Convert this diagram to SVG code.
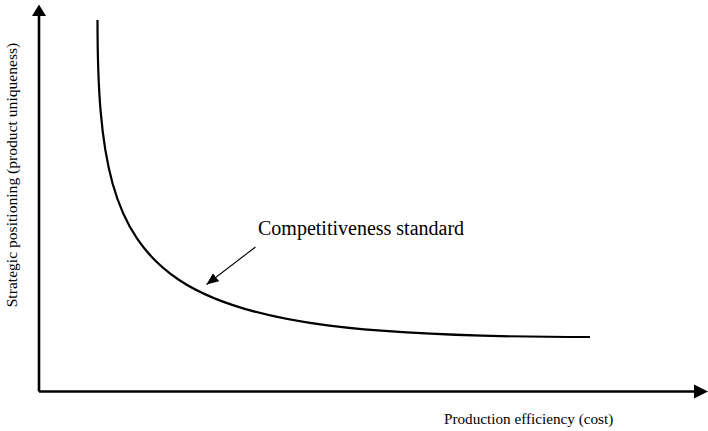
<svg xmlns="http://www.w3.org/2000/svg" width="708" height="431" viewBox="0 0 708 431">
  <style>
    .axis { stroke: #000; stroke-width: 2.6; fill: none; }
    .curve { stroke: #000; stroke-width: 2.2; fill: none; }
    .pointer { stroke: #000; stroke-width: 1.1; fill: none; }
    .head { fill: #000; }
    .label { font-family: "Liberation Serif", "Times New Roman", serif; fill: #000; }
  </style>
  <defs>
    <marker id="ptr" viewBox="0 0 12 10" refX="12" refY="5" markerWidth="12" markerHeight="10" markerUnits="userSpaceOnUse" orient="auto">
      <path d="M0,0 L12,5 L0,10 Z" class="head"/>
    </marker>
  </defs>

  <!-- axes -->
  <g id="axes">
    <path class="axis" d="M39,391.5 L39,14"/>
    <path class="head" d="M39,4.5 L32,16 L46,16 Z"/>
    <path class="axis" d="M39,391.5 L696,391.5"/>
    <path class="head" d="M708,391.5 L694,384.5 L694,398.5 Z"/>
  </g>

  <!-- standard curve -->
  <g id="curve">
    <path class="curve" d="M97.5,20 C97.5,290 150,337 590,337"/>
  </g>

  <!-- labels -->
  <g id="label-standard">
    <text class="label" x="258" y="235" font-size="20">Competitiveness standard</text>
  </g>
  <g id="label-y">
    <text class="label" font-size="15.6" text-anchor="middle" transform="translate(17,175) rotate(-90)">Strategic positioning (product uniqueness)</text>
  </g>
  <g id="label-x">
    <text class="label" x="444" y="424" font-size="15.2">Production efficiency (cost)</text>
  </g>

  <!-- connectors -->
  <g id="connectors">
    <path class="pointer" d="M255.5,247 L206.5,284.5" marker-end="url(#ptr)"/>
  </g>
</svg>
